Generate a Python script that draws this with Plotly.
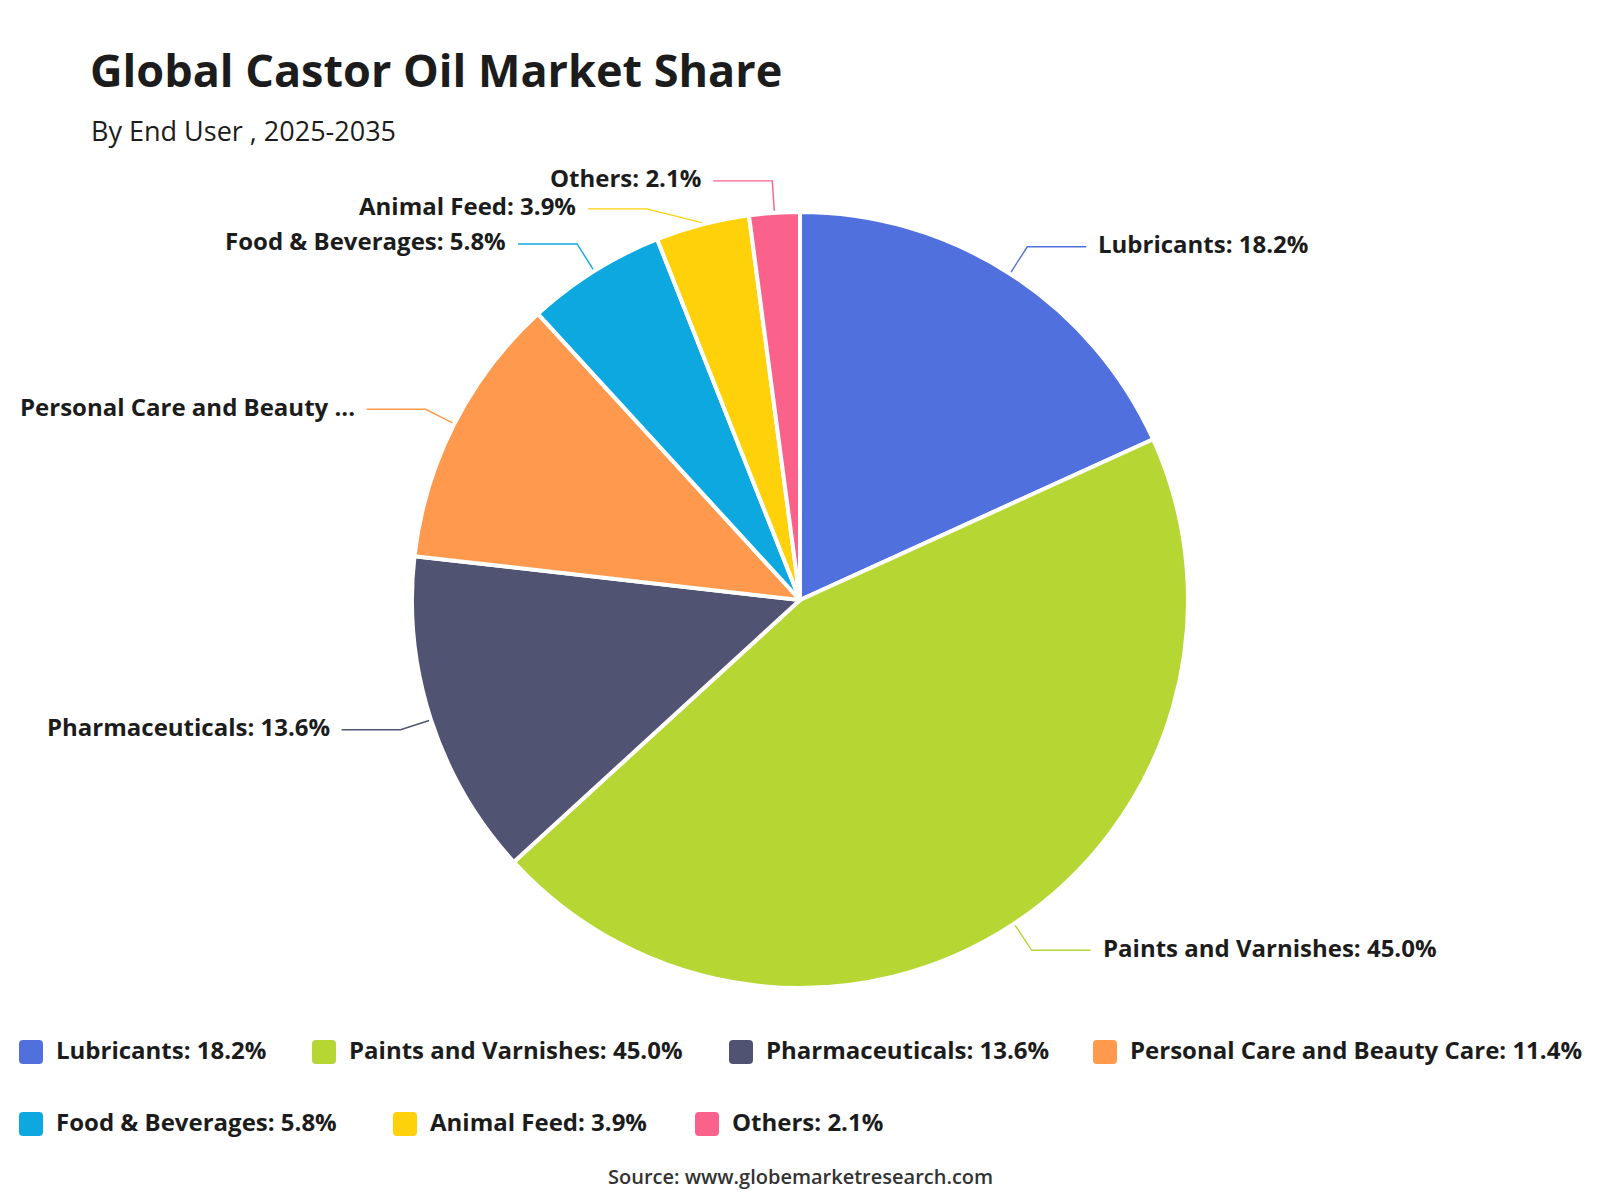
import math
import plotly.graph_objects as go

# ---------------- data ----------------
categories = ["Lubricants", "Paints and Varnishes", "Pharmaceuticals",
              "Personal Care and Beauty Care", "Food & Beverages",
              "Animal Feed", "Others"]
shares = [18.2, 45.0, 13.6, 11.4, 5.8, 3.9, 2.1]
colors = ["#5070dd", "#b6d634", "#505372", "#ff994d", "#0ca8df", "#ffd10a", "#fb628b"]

title_text = "Global Castor Oil Market Share"
subtitle_text = "By End User , 2025-2035"
source_text = "Source: www.globemarketresearch.com"

# ---------------- layout constants (pixels) ----------------
W, H = 1600, 1200
CX, CY, R = 800, 600, 388
ELBOW = 32          # radial leader length
HLEN = 59           # horizontal leader length
TGAP = 10           # gap between leader and text
MIN_GAP = 28        # min vertical gap between labels on one side
TEXT_DY = -3        # baseline correction for text
FONT = "Open Sans"
TXT = "#1c1c1c"
LABEL_SIZE = 24

LEGEND_ROWS_Y = [1052, 1124]
LEGEND_LAYOUT = [(0, 19), (0, 312), (0, 729), (0, 1093), (1, 19), (1, 393), (1, 695)]
SW = 24             # legend swatch size


def px(x):
    return x / W


def py(y):
    return 1 - y / H


def label_text(name, v, max_chars=28):
    full = f"{name}: {v:.1f}%"
    if len(full) > max_chars:
        return name[:24].rstrip() + " ..."
    return full


def legend_text(name, v):
    return f"{name}: {v:.1f}%"


fig = go.Figure()
fig.add_trace(go.Pie(
    labels=categories,
    values=shares,
    sort=False,
    direction="clockwise",
    rotation=0,
    marker=dict(colors=colors, line=dict(color="white", width=4)),
    textinfo="none",
    hoverinfo="label+percent",
    showlegend=False,
    domain=dict(x=[px(CX - R), px(CX + R)], y=[py(CY + R), py(CY - R)]),
))

# ---------------- outside labels with leader lines ----------------
total = sum(shares)
items = []
cum = 0.0
for name, v, c in zip(categories, shares, colors):
    mid = (cum + v / 2) / total * 2 * math.pi
    cum += v
    s, co = math.sin(mid), math.cos(mid)
    side = 1 if s >= 0 else -1
    R1 = R + ELBOW
    items.append(dict(name=name, v=v, c=c, side=side,
                      sx=CX + (R + 2) * s, sy=CY - (R + 2) * co,
                      ex=CX + R1 * s, ey=CY - R1 * co, R1=R1))

for side in (1, -1):
    grp = sorted([it for it in items if it["side"] == side], key=lambda d: d["ey"])
    prev = None
    for it in grp:
        if prev is not None and it["ey"] < prev + MIN_GAP:
            it["ey"] = prev + MIN_GAP
            dy = it["ey"] - CY
            it["ex"] = CX + side * math.sqrt(max(it["R1"] ** 2 - dy ** 2, 0))
        prev = it["ey"]

shapes = []
annotations = []
for it in items:
    hx = it["ex"] + it["side"] * HLEN
    path = (f"M {px(it['sx'])},{py(it['sy'])} L {px(it['ex'])},{py(it['ey'])} "
            f"L {px(hx)},{py(it['ey'])}")
    shapes.append(dict(type="path", xref="paper", yref="paper", path=path,
                       line=dict(color=it["c"], width=1.4)))
    annotations.append(dict(
        xref="paper", yref="paper", x=px(hx + it["side"] * TGAP), y=py(it["ey"] + TEXT_DY),
        text=label_text(it["name"], it["v"]), showarrow=False,
        xanchor="left" if it["side"] > 0 else "right", yanchor="middle",
        font=dict(family=FONT, size=LABEL_SIZE, color=TXT, weight="bold")))

# ---------------- legend (custom, rounded swatches) ----------------
def rounded_rect(x0, y0, x1, y1, r):
    return (f"M {px(x0 + r)},{py(y0)} L {px(x1 - r)},{py(y0)} "
            f"Q {px(x1)},{py(y0)} {px(x1)},{py(y0 + r)} "
            f"L {px(x1)},{py(y1 - r)} Q {px(x1)},{py(y1)} {px(x1 - r)},{py(y1)} "
            f"L {px(x0 + r)},{py(y1)} Q {px(x0)},{py(y1)} {px(x0)},{py(y1 - r)} "
            f"L {px(x0)},{py(y0 + r)} Q {px(x0)},{py(y0)} {px(x0 + r)},{py(y0)} Z")


for (row, lx), name, v, c in zip(LEGEND_LAYOUT, categories, shares, colors):
    yc = LEGEND_ROWS_Y[row]
    shapes.append(dict(type="path", xref="paper", yref="paper",
                       path=rounded_rect(lx, yc - SW / 2, lx + SW, yc + SW / 2, 4),
                       fillcolor=c, line=dict(width=0)))
    annotations.append(dict(
        xref="paper", yref="paper", x=px(lx + SW + 11), y=py(yc + TEXT_DY),
        text=legend_text(name, v), showarrow=False, xanchor="left", yanchor="middle",
        font=dict(family=FONT, size=LABEL_SIZE, color=TXT, weight="bold")))

# ---------------- titles & source ----------------
annotations.append(dict(xref="paper", yref="paper", x=px(88), y=py(69),
                        text=title_text, showarrow=False, xanchor="left", yanchor="middle",
                        font=dict(family=FONT, size=45, color=TXT, weight="bold")))
annotations.append(dict(xref="paper", yref="paper", x=px(89), y=py(130),
                        text=subtitle_text, showarrow=False, xanchor="left", yanchor="middle",
                        font=dict(family=FONT, size=27, color=TXT)))
annotations.append(dict(xref="paper", yref="paper", x=px(CX), y=py(1176),
                        text=source_text, showarrow=False, xanchor="center", yanchor="middle",
                        font=dict(family=FONT, size=20, color="#333333", weight=600)))

fig.update_layout(
    width=W, height=H,
    margin=dict(l=0, r=0, t=0, b=0),
    paper_bgcolor="white", plot_bgcolor="white",
    shapes=shapes, annotations=annotations,
    font=dict(family=FONT),
)

fig.write_html("out.html")
